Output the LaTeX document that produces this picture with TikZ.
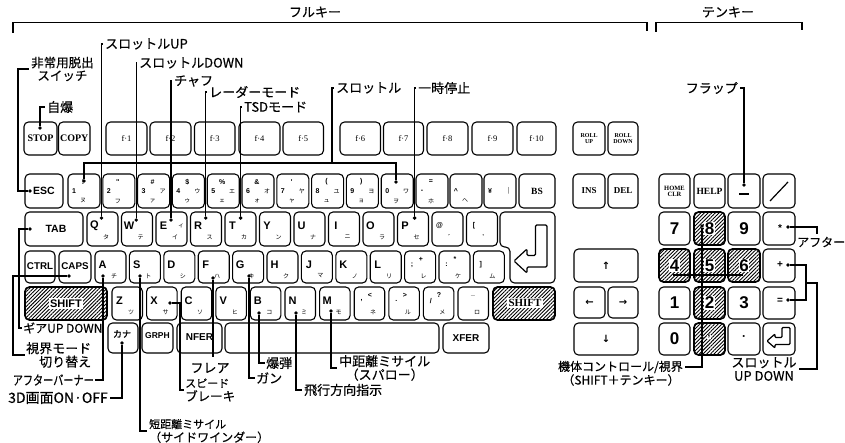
\documentclass[tikz,border=0pt]{standalone}
\usepackage{fontspec}
\setmainfont{Liberation Serif}
\newfontfamily\jp{Noto Sans CJK JP}
\newfontfamily\jpl[FakeBold=0.4]{Noto Sans CJK JP}
\newfontfamily\jpb[FakeBold=1.5]{Noto Sans CJK JP}
\newfontfamily\ks{Liberation Sans}
\newfontfamily\dv{DejaVu Sans}
\usetikzlibrary{patterns.meta}
\tikzset{
 keybox/.style={draw,line width=1.1pt,rounded corners=4.5pt,fill=white,inner sep=0pt},
 hatchbox/.style={draw,line width=1.7pt,rounded corners=4.5pt,inner sep=0pt,pattern={Lines[angle=45,distance=2.6pt,line width=0.9pt]}},
 lead/.style={line width=1.3pt},
 brk/.style={line width=1.2pt},
 dotc/.style={circle,fill,inner sep=0pt,minimum size=3.8pt},
 lab/.style={font=\jpl\fontsize{13}{13.5}\selectfont,inner sep=0pt},
 tserb/.style={font=\bfseries\fontsize{10}{10}\selectfont,inner sep=0pt},
 tsansb/.style={font=\ks\bfseries\fontsize{10.5}{10}\selectfont,inner sep=0pt},
 tfk/.style={font=\fontsize{8.5}{8}\selectfont,inner sep=0pt},
 ttiny/.style={font=\bfseries\fontsize{6}{5.5}\selectfont,inner sep=0pt,align=center},
 tlet/.style={font=\ks\bfseries\fontsize{11}{10}\selectfont,inner sep=0pt},
 tkana/.style={font=\jp\fontsize{6}{6}\selectfont,inner sep=0pt},
 tsym/.style={font=\ks\bfseries\fontsize{7}{7}\selectfont,inner sep=0pt},
 tdig/.style={font=\ks\bfseries\fontsize{17}{17}\selectfont,inner sep=0.6pt},
 tarr/.style={font=\dv\bfseries\fontsize{10}{10}\selectfont,inner sep=0pt},
}
\newcommand\mk[6][keybox]{\node[#1,minimum width={(#5)-(#3)},minimum height={(#6)-(#4)}] (#2) at ({((#3)+(#5))/2},{((#4)+(#6))/2}) {};}
\newcommand\ak[7]{\mk{#1}{#2}{#3}{#4}{#5}\node[tlet] (#1-l) at ({#2+7.5},{#3+14}) {#6};\node[tkana] (#1-k) at ({#2+19},{#3+25}) {#7};}
\newcommand\nk[6]{\mk{#1}{#2}{174}{#2+32}{208}\node[tsym] (#1-d) at ({#2+6},191) {#3};\node[tsym] (#1-s) at ({#2+15},182) {#4};\node[tkana] (#1-r) at ({#2+25},191) {#5};\node[tkana] (#1-b) at ({#2+15},201) {#6};}
\begin{document}
\begin{tikzpicture}[x=1pt,y=-1pt]
\useasboundingbox (0,0) rectangle (845,443);
% brackets
\coordinate (fkL) at (13,33); \coordinate (fkR) at (647,31);
\coordinate (tkL) at (656,32); \coordinate (tkR) at (802,30);
\draw[brk] (fkL) |- (647,22.5) -- (fkR);
\draw[brk] (tkL) |- (802,22.5) -- (tkR);
\node[lab] (full) at (315,12) {フルキー};
\node[lab] (tenk) at (728,12) {テンキー};
% function row
\mk{stop}{24}{122}{57}{155}\node[tserb] (stop-t) at (stop) {STOP};
\mk{copy}{58.5}{122}{90}{155}\node[tserb] (copy-t) at (copy) {COPY};
\mk{f1}{106}{122}{147}{155}\node[tfk] (f1-t) at (f1) {f·1};
\mk{f2}{150}{122}{191}{155}\node[tfk] (f2-t) at (f2) {f·2};
\mk{f3}{194.5}{122}{235}{155}\node[tfk] (f3-t) at (f3) {f·3};
\mk{f4}{239}{122}{280}{155}\node[tfk] (f4-t) at (f4) {f·4};
\mk{f5}{283}{122}{323.5}{155}\node[tfk] (f5-t) at (f5) {f·5};
\mk{f6}{340}{122}{380.5}{155}\node[tfk] (f6-t) at (f6) {f·6};
\mk{f7}{383.5}{122}{423.5}{155}\node[tfk] (f7-t) at (f7) {f·7};
\mk{f8}{427}{122}{468}{155}\node[tfk] (f8-t) at (f8) {f·8};
\mk{f9}{472}{122}{513}{155}\node[tfk] (f9-t) at (f9) {f·9};
\mk{f10}{517}{122}{556}{155}\node[tfk] (f10-t) at (f10) {f·10};
\mk{rup}{573}{122}{605}{155}\node[ttiny] (rup-t) at (rup) {ROLL\\UP};
\mk{rdn}{608}{122}{638}{155}\node[ttiny] (rdn-t) at (rdn) {ROLL\\DOWN};
% number row
\mk{esc}{25}{174}{63}{208}\node[tsansb] (esc-t) at (44,191) {ESC};
\nk{n1}{68}{1}{!}{}{ヌ}
\nk{n2}{102.8}{2}{"}{}{フ}
\nk{n3}{137.6}{3}{\#}{ア}{ァ}
\nk{n4}{172.4}{4}{\$}{ウ}{ゥ}
\nk{n5}{207.2}{5}{\%}{エ}{ェ}
\nk{n6}{242}{6}{\&}{オ}{ォ}
\nk{n7}{276.8}{7}{'}{ヤ}{ャ}
\nk{n8}{311.6}{8}{(}{ユ}{ュ}
\nk{n9}{346.4}{9}{)}{ヨ}{ョ}
\nk{n0}{381.2}{0}{}{ワ}{ヲ}
\nk{nmin}{416}{-}{=}{}{ホ}
\nk{ncar}{450}{\textasciicircum}{}{}{ヘ}
\nk{nyen}{484}{¥}{}{|}{}
\mk{bs}{519}{174}{555}{208}\node[tserb,font=\bfseries\fontsize{9.5}{9}\selectfont] (bs-t) at (bs) {BS};
\mk{ins}{573}{174}{605}{208}\node[tserb,font=\bfseries\fontsize{9}{9}\selectfont] (ins-t) at (ins) {INS};
\mk{del}{608}{174}{638}{208}\node[tserb,font=\bfseries\fontsize{9}{9}\selectfont] (del-t) at (del) {DEL};
% tab row
\mk{tab}{25}{212}{83}{246}\node[tsansb] (tab-t) at (56,229) {TAB};
\ak{kq}{87}{212}{118}{246}{Q}{タ}
\ak{kw}{121.5}{212}{152.5}{246}{W}{テ}
\ak{ke}{156}{212}{187}{246}{E}{イ}\node[tkana] (ke-r) at (181,226) {ィ};
\ak{kr}{190.5}{212}{221.5}{246}{R}{ス}
\ak{kt}{225}{212}{256}{246}{T}{カ}
\ak{ky}{259.5}{212}{290.5}{246}{Y}{ン}
\ak{ku}{294}{212}{325}{246}{U}{ナ}
\ak{ki}{328.5}{212}{359.5}{246}{I}{ニ}
\ak{ko}{363}{212}{394}{246}{O}{ラ}
\ak{kp}{397.5}{212}{428.5}{246}{P}{セ}
\ak{kat}{432}{212}{463}{246}{{\fontsize{7}{7}\selectfont @}}{゛}
\ak{klb}{466.5}{212}{497.5}{246}{{\fontsize{7}{7}\selectfont [}}{゜}
\draw[keybox] (500,212) -- (555,212) -- (555,283) -- (510,283) -- (510,247) -- (500,247) -- cycle;
\draw[line width=1.2pt,rounded corners=1.2pt] (514,261) -- (527,249) -- (527,255.5) -- (535.5,255.5) -- (535.5,225) -- (547,225) -- (547,267) -- (527,267) -- (527,273) -- cycle;
% home row
\mk{ctrl}{25}{251}{55}{283}\node[tsansb,font=\ks\bfseries\fontsize{9.8}{10}\selectfont] (ctrl-t) at (40,266) {CTRL};
\mk{caps}{59}{251}{91}{283}\node[tsansb,font=\ks\bfseries\fontsize{9.8}{10}\selectfont] (caps-t) at (75,266) {CAPS};
\ak{ka}{95}{251}{126}{283}{A}{チ}
\ak{ks}{129.4}{251}{160.4}{283}{S}{ト}
\ak{kd}{163.8}{251}{194.8}{283}{D}{シ}
\ak{kf}{198.2}{251}{229.2}{283}{F}{ハ}
\ak{kg}{232.6}{251}{263.6}{283}{G}{キ}
\ak{kh}{267}{251}{298}{283}{H}{ク}
\ak{kj}{301.4}{251}{332.4}{283}{J}{マ}
\ak{kk}{335.8}{251}{366.8}{283}{K}{ノ}
\ak{kl}{370.2}{251}{401.2}{283}{L}{リ}
\ak{ksc}{404.6}{251}{435.6}{283}{{\fontsize{7}{7}\selectfont ;}}{レ}\node[tsym] (ksc-s) at (421,259) {+};
\ak{kco}{439}{251}{470}{283}{{\fontsize{7}{7}\selectfont :}}{ケ}\node[tsym] (kco-s) at (455,259) {*};
\ak{krb}{473.4}{251}{504.4}{283}{{\fontsize{7}{7}\selectfont ]}}{ム}
% shift row
\mk[hatchbox]{lsh}{25}{287}{107}{320}\node[fill=white,inner sep=1.5pt,font=\ks\bfseries\fontsize{11}{11}\selectfont] (lsh-t) at (66,303.5) {SHIFT};
\ak{kz}{112}{287}{142.5}{320}{Z}{ツ}
\ak{kx}{146.6}{287}{177.1}{320}{X}{サ}
\ak{kc}{181.2}{287}{211.7}{320}{C}{ソ}
\ak{kv}{215.8}{287}{246.3}{320}{V}{ヒ}
\ak{kb}{250.4}{287}{280.9}{320}{B}{コ}
\ak{kn}{285}{287}{315.5}{320}{N}{ミ}
\ak{km}{319.6}{287}{350.1}{320}{M}{モ}
\ak{kcm}{354.2}{287}{384.7}{320}{{\fontsize{7}{7}\selectfont ,}}{ネ}\node[tsym] (kcm-s) at (370,295) {<};
\ak{kpd}{388.8}{287}{419.3}{320}{{\fontsize{7}{7}\selectfont .}}{ル}\node[tsym] (kpd-s) at (405,295) {>};
\ak{ksl}{423.4}{287}{453.9}{320}{{\fontsize{7}{7}\selectfont /}}{メ}\node[tsym] (ksl-s) at (439,295) {?};
\ak{kus}{458}{287}{488.5}{320}{}{ロ}\node[tsym] (kus-s) at (473,296) {\_};
\mk[hatchbox]{rsh}{493}{287}{555}{320}\node[fill=white,inner sep=1.5pt,font=\bfseries\fontsize{11}{11}\selectfont] (rsh-t) at (525,303) {SHIFT};
% bottom row
\mk{kkana}{108}{323}{138}{353}\node[inner sep=0pt,font=\jpb\fontsize{9}{9}\selectfont] (kkana-t) at (122,334) {カナ};
\mk{grph}{142}{323}{173}{353}\node[tsansb,font=\ks\bfseries\fontsize{8.5}{8}\selectfont] (grph-t) at (157.5,336) {GRPH};
\mk{nfer}{177}{323}{222}{353}\node[tsansb,font=\ks\bfseries\fontsize{10}{10}\selectfont] (nfer-t) at (199.5,337) {NFER};
\mk{space}{225}{323}{439}{353}
\mk{xfer}{443}{323}{489}{353}\node[tsansb,font=\ks\bfseries\fontsize{10}{10}\selectfont] (xfer-t) at (466,338) {XFER};
% arrows
\mk{up}{574}{249}{638}{282}\node[tarr] (up-t) at (up) {↑};
\mk{lf}{574}{287}{605}{318}\node[tarr] (lf-t) at (lf) {←};
\mk{rt}{608}{287}{638}{318}\node[tarr] (rt-t) at (rt) {→};
\mk{dn}{574}{323}{638}{355}\node[tarr] (dn-t) at (dn) {↓};
% ten keys
\mk{home}{659}{174}{690}{208}\node[ttiny,font=\bfseries\fontsize{6.5}{6}\selectfont] (home-t) at (home) {HOME\\CLR};
\mk{help}{694}{174}{725}{208}\node[tserb,font=\bfseries\fontsize{9.5}{9}\selectfont] (help-t) at (help) {HELP};
\mk{tmin}{728}{174}{760}{208}\draw[line width=1.6pt] (739,194) -- (749,194);
\mk{tdiv}{763}{174}{795}{208}\draw[line width=1.2pt] (770,201) -- (788,182);
\mk{t7}{659}{212}{690}{245}\node[tdig] (t7-t) at (t7) {7};
\mk[hatchbox]{t8}{694}{212}{725}{245}\node[tdig,fill=white] (t8-t) at (t8) {8};
\mk{t9}{728}{212}{760}{245}\node[tdig] (t9-t) at (t9) {9};
\mk{tstar}{763}{212}{795}{245}\node[tsym,font=\ks\bfseries\fontsize{10}{10}\selectfont] (tstar-t) at (780,228) {*};
\mk[hatchbox]{t4}{659}{249}{690}{282}\node[tdig,fill=white] (t4-t) at (t4) {4};
\mk[hatchbox]{t5}{694}{249}{725}{282}\node[tdig,fill=white] (t5-t) at (t5) {5};
\mk[hatchbox]{t6}{728}{249}{760}{282}\node[tdig,fill=white] (t6-t) at (t6) {6};
\mk{tplus}{763}{249}{795}{282}\node[tsym,font=\ks\bfseries\fontsize{10}{10}\selectfont] (tplus-t) at (780,265) {+};
\mk{t1}{659}{287}{690}{319}\node[tdig] (t1-t) at (t1) {1};
\mk[hatchbox]{t2}{694}{287}{725}{319}\node[tdig,fill=white] (t2-t) at (t2) {2};
\mk{t3}{728}{287}{760}{319}\node[tdig] (t3-t) at (t3) {3};
\mk{teq}{763}{287}{795}{319}\node[tsym,font=\ks\bfseries\fontsize{10}{10}\selectfont] (teq-t) at (780,301) {=};
\mk{t0}{659}{323}{690}{355}\node[tdig] (t0-t) at (t0) {0};
\mk[hatchbox]{tcom}{694}{323}{725}{355}\node[tsym,fill=white,inner sep=0.8pt,font=\ks\bfseries\fontsize{10}{10}\selectfont] (tcom-t) at (709,337) {,};
\mk{tdot}{728}{323}{760}{355}\node[tsym,font=\ks\bfseries\fontsize{12}{12}\selectfont] (tdot-t) at (744,338) {·};
\mk{tent}{763}{323}{795}{355}
\draw[line width=1.2pt,rounded corners=1pt] (767,341) -- (775,334) -- (775,337.5) -- (782,337.5) -- (782,327.5) -- (790,327.5) -- (790,344.5) -- (775,344.5) -- (775,348) -- cycle;
% dots
\node[dotc] (d-esc) at (30,191) {};
\node[dotc] (d-stop) at (40,128) {};
\node[dotc] (d-q) at (101.4,218) {};
\node[dotc] (d-w) at (136.2,220) {};
\node[dotc] (d-e) at (171,220) {};
\node[dotc] (d-r) at (205.8,218) {};
\node[dotc] (d-t) at (240.6,218) {};
\node[dotc] (d-1) at (84,181) {};
\node[dotc] (d-0) at (396,182) {};
\node[dotc] (d-p) at (414.6,218) {};
\node[dotc] (d-tm) at (744,185) {};
\node[dotc] (d-star) at (788,227) {};
\node[dotc] (d-plus) at (788,265) {};
\node[dotc] (d-eq) at (788,300) {};
\node[dotc] (d-8) at (702,226) {};
\node[dotc] (d-com) at (702,338) {};
\node[dotc] (d-tab) at (30,229) {};
\node[dotc] (d-caps) at (69,276) {};
\node[dotc] (d-a) at (103,276) {};
\node[dotc] (d-kana) at (122,343) {};
\node[dotc] (d-s) at (140,276) {};
\node[dotc] (d-x) at (170,303) {};
\node[dotc] (d-f) at (213,278) {};
\node[dotc] (d-g) at (249,276) {};
\node[dotc] (d-b) at (259,313) {};
\node[dotc] (d-n) at (296,313) {};
\node[dotc] (d-m) at (331,311) {};
% labels
\node[lab,anchor=west,align=center,font=\jpl\fontsize{12.5}{13}\selectfont] (hijo) at (31,69) {非常用脱出\\スイッチ};
\node[lab,anchor=west] (jibaku) at (47,107) {自爆};
\node[lab,anchor=west] (thrup) at (105,44) {スロットルUP};
\node[lab,anchor=west] (thrdn) at (139,63) {スロットルDOWN};
\node[lab,anchor=west] (chaff) at (174,81) {チャフ};
\node[lab,anchor=west] (radar) at (209,92) {レーダーモード};
\node[lab,anchor=west] (tsd) at (244,107) {TSDモード};
\node[lab,anchor=west] (thr) at (336,88) {スロットル};
\node[lab,anchor=west] (pause) at (418,88) {一時停止};
\node[lab,anchor=east] (flap) at (738,88) {フラップ};
\node[lab,anchor=west,font=\jpl\fontsize{12}{13}\selectfont] (after) at (797,242) {アフター};
\node[lab,align=center] (thrud) at (764,369) {スロットル\\UP DOWN};
\node[lab,anchor=east,font=\jpl\fontsize{12}{13}\selectfont] (kitai1) at (683,367) {機体コントロール/視界};
\node[lab,font=\jpl\fontsize{12}{13}\selectfont] (kitai2) at (621,380) {（SHIFT＋テンキー）};
\node[lab,anchor=west,font=\jpl\fontsize{12}{13}\selectfont] (gear) at (23,328) {ギアUP DOWN};
\node[lab,anchor=west,align=right] (shikai) at (26,355) {視界モード\\切り替え};
\node[lab,anchor=east] (afterb) at (94,380) {\scalebox{0.78}[1]{アフターバーナー}};
\node[lab,anchor=east,font=\jpl\fontsize{14}{14}\selectfont] (d3) at (108,398) {3D画面ON·OFF};
\node[lab,anchor=west,align=left] (tanki) at (149,431) {{\fontsize{11}{11}\selectfont 短距離ミサイル}\\{\fontsize{12}{11}\selectfont（サイドワインダー）}};
\node[lab,anchor=west,align=left] (sbrake) at (185,390) {{\fontsize{11}{12}\selectfont スピード}\\{\fontsize{12.5}{12}\selectfont ブレーキ}};
\node[lab] (flare) at (210,368) {フレア};
\node[lab,anchor=west] (gun) at (256,378) {ガン};
\node[lab,anchor=west] (bomb) at (266,363) {爆弾};
\node[lab,anchor=west] (hikou) at (304,390) {飛行方向指示};
\node[lab,anchor=west,align=center] (chuuki) at (339,368) {中距離ミサイル\\（スパロー）};
% leaders
\draw[lead] (d-esc) -| (18,69) -- ([xshift=-2pt]hijo.west);
\draw[lead] (d-stop) |- ([xshift=-2pt]jibaku.west);
\draw[lead] (d-q) |- ([xshift=-2pt]thrup.west);
\draw[lead] (d-w) |- ([xshift=-2pt]thrdn.west);
\draw[lead] (d-e) |- ([xshift=-2pt]chaff.west);
\draw[lead] (d-r) |- ([xshift=-2pt]radar.west);
\draw[lead] (d-t) |- ([xshift=-2pt]tsd.west);
\coordinate (thr-j) at (332,163); \coordinate (thr-l) at (84,163); \coordinate (thr-r) at (396,163);
\draw[lead] (d-1) -- (thr-l) -- (thr-r) -- (d-0);
\draw[lead] (thr-j) |- ([xshift=-2pt]thr.west);
\draw[lead] (d-p) |- ([xshift=-2pt]pause.west);
\draw[lead] (d-tm) |- ([xshift=2pt]flap.east);
\coordinate (after-e) at (817,234);
\draw[lead] (d-star) -| (after-e);
\coordinate (pe-j) at (806,283);
\draw[lead] (d-plus) -| (pe-j) |- (d-eq);
\draw[lead] (pe-j) -| (817,369) -- ([xshift=2pt]thrud.east);
\coordinate (k456l) at (673,275); \coordinate (k456r) at (743,275);
\draw[lead] (k456l) -- (k456r);
\draw[lead] (d-8) -- (d-com) -- (702,367) -- ([xshift=2pt]kitai1.east);
\draw[lead] (d-tab) -| (19,328) -- ([xshift=-1pt]gear.west);
\draw[lead] (d-caps) -| (13,355) -- ([xshift=-1pt]shikai.west);
\draw[lead] (d-a) |- ([xshift=1pt]afterb.east);
\draw[lead] (d-kana) |- ([xshift=2pt]d3.east);
\draw[lead] (d-s) |- ([xshift=-2pt]tanki.west);
\draw[lead] (d-x) -| (180,390) -- ([xshift=-1pt]sbrake.west);
\coordinate (fl-e) at (213,357);
\draw[lead] (d-f) -- (fl-e);
\draw[lead] (d-g) |- ([xshift=-1pt]gun.west);
\draw[lead] (d-b) |- ([xshift=-1pt]bomb.west);
\draw[lead] (d-n) |- ([xshift=-2pt]hikou.west);
\draw[lead] (d-m) |- ([xshift=-2pt]chuuki.west);
\end{tikzpicture}
\end{document}
